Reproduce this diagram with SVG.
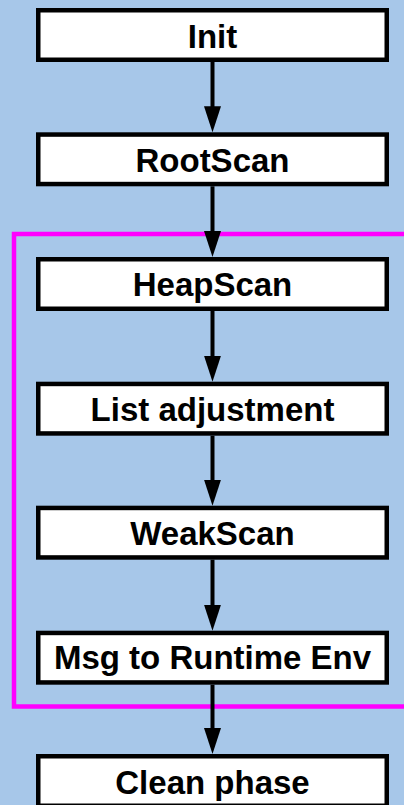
<svg xmlns="http://www.w3.org/2000/svg" width="404" height="805" viewBox="0 0 404 805">
  <style>
    .box { fill: #ffffff; stroke: #000000; stroke-width: 4.5; }
    .label { font-family: "Liberation Sans", Arial, sans-serif; font-weight: bold; font-size: 33px; fill: #000000; text-anchor: middle; }
    .flow { stroke: #000000; stroke-width: 4; fill: none; marker-end: url(#head); }
    .frame { fill: none; stroke: #ff00ff; stroke-width: 4.5; }
  </style>
  <defs>
    <marker id="head" markerUnits="userSpaceOnUse" viewBox="0 0 26 17" markerWidth="26" markerHeight="17" refX="6" refY="8.5" orient="auto">
      <path d="M0,0 L26,8.5 L0,17 Z" fill="#000000"/>
    </marker>
  </defs>

  <!-- background -->
  <rect x="0" y="0" width="404" height="805" fill="#a7c7e9"/>

  <!-- loop frame around the scanning phases -->
  <rect class="frame" x="14" y="234" width="400" height="472.5"/>

  <!-- connectors -->
  <g id="connectors">
    <line class="flow" x1="212.5" y1="62" x2="212.5" y2="112.3"/>
    <line class="flow" x1="212.5" y1="186.3" x2="212.5" y2="237"/>
    <line class="flow" x1="212.5" y1="311" x2="212.5" y2="361.7"/>
    <line class="flow" x1="212.5" y1="435.7" x2="212.5" y2="485.7"/>
    <line class="flow" x1="212.5" y1="559.7" x2="212.5" y2="610.7"/>
    <line class="flow" x1="212.5" y1="684.7" x2="212.5" y2="734"/>
  </g>

  <!-- nodes -->
  <g id="init">
    <rect class="box" x="38.25" y="10.25" width="348.5" height="49.5"/>
    <text class="label" x="212.5" y="47.6">Init</text>
  </g>
  <g id="rootscan">
    <rect class="box" x="38.25" y="134.55" width="348.5" height="49.5"/>
    <text class="label" x="212.5" y="171.9">RootScan</text>
  </g>
  <g id="heapscan">
    <rect class="box" x="38.25" y="259.25" width="348.5" height="49.5"/>
    <text class="label" x="212.5" y="296.3">HeapScan</text>
  </g>
  <g id="list-adjustment">
    <rect class="box" x="38.25" y="383.95" width="348.5" height="49.5"/>
    <text class="label" x="212.5" y="420.6">List adjustment</text>
  </g>
  <g id="weakscan">
    <rect class="box" x="38.25" y="507.95" width="348.5" height="49.5"/>
    <text class="label" x="212.5" y="544.9">WeakScan</text>
  </g>
  <g id="msg-runtime">
    <rect class="box" x="38.25" y="632.95" width="348.5" height="49.5"/>
    <text class="label" x="212.5" y="669.3">Msg to Runtime Env</text>
  </g>
  <g id="clean-phase">
    <rect class="box" x="38.25" y="756.25" width="348.5" height="49.5"/>
    <text class="label" x="212.5" y="793.6">Clean phase</text>
  </g>
</svg>
